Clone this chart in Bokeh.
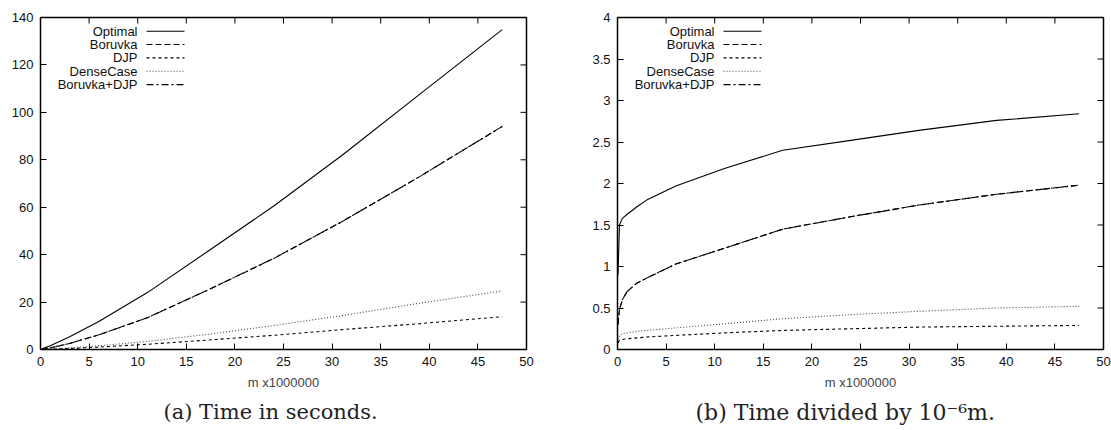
import math
from bokeh.plotting import figure
from bokeh.models import Range1d, Label, Arrow, Title, FixedTicker
from bokeh.layouts import row
from bokeh.embed import file_html
from bokeh.resources import INLINE

# ---- data ----
m_millions = [0.05, 0.2, 0.5, 1, 2, 3, 6, 11, 17, 24, 31, 39, 47.5]

# (a) time in seconds
sec_optimal = [0.045, 0.3, 0.79, 1.63, 3.44, 5.4, 11.8, 24.0, 40.8, 60.5, 81.8, 107.6, 134.9]
sec_boruvka = [0.015, 0.096, 0.3, 0.7, 1.6, 2.58, 6.18, 13.4, 24.65, 38.4, 53.9, 72.9, 94.05]
sec_djp = [0.004, 0.022, 0.06, 0.13, 0.28, 0.45, 1.02, 2.2, 3.91, 6.0, 8.37, 10.9, 13.8]
sec_dense = [0.006, 0.034, 0.095, 0.2, 0.44, 0.69, 1.56, 3.41, 6.29, 10.1, 14.3, 19.5, 24.7]
sec_boruvka_djp = [0.015, 0.096, 0.3, 0.7, 1.6, 2.58, 6.18, 13.4, 24.65, 38.4, 53.9, 72.9, 94.05]

# (b) time divided by 1e-6 m
norm_optimal = [0.9, 1.5, 1.58, 1.63, 1.72, 1.8, 1.97, 2.18, 2.4, 2.52, 2.64, 2.76, 2.84]
norm_boruvka = [0.3, 0.48, 0.6, 0.7, 0.8, 0.86, 1.03, 1.22, 1.45, 1.6, 1.74, 1.87, 1.98]
norm_djp = [0.08, 0.11, 0.12, 0.13, 0.14, 0.15, 0.17, 0.2, 0.23, 0.25, 0.27, 0.28, 0.29]
norm_dense = [0.12, 0.17, 0.19, 0.2, 0.22, 0.23, 0.26, 0.31, 0.37, 0.42, 0.46, 0.5, 0.52]
norm_boruvka_djp = [0.3, 0.48, 0.6, 0.7, 0.8, 0.86, 1.03, 1.22, 1.45, 1.6, 1.74, 1.87, 1.98]

series_names = ["Optimal", "Boruvka", "DJP", "DenseCase", "Boruvka+DJP"]
x_ticks = [0, 5, 10, 15, 20, 25, 30, 35, 40, 45, 50]
y_ticks_a = [0, 20, 40, 60, 80, 100, 120, 140]
y_ticks_b = [0, 0.5, 1, 1.5, 2, 2.5, 3, 3.5, 4]
x_label = "m x1000000"
caption_a = "(a) Time in seconds."
caption_b = "(b) Time divided by 10\u207b\u2076m."

# ---- styles ----
STYLES = [
    dict(line_color="#000000", line_dash="solid", line_width=1.1),
    dict(line_color="#000000", line_dash="6 3", line_width=1.1),
    dict(line_color="#000000", line_dash="3 3", line_width=1.1),
    dict(line_color="#444444", line_dash="1 2", line_width=1.1),
    dict(line_color="#000000", line_dash="7 3 2 3", line_width=1.1),
]
SANS = "Liberation Sans"
SERIF = "DejaVu Serif"
H = 430
BT = 17
BB = 81


def make_panel(ys, yticks, ymax, caption, width, bl, br, cap_offset, cap_size):
    p = figure(width=width, height=H, output_backend="svg", toolbar_location=None,
               x_range=Range1d(0, 50), y_range=Range1d(0, ymax),
               min_border_left=bl, min_border_right=br, min_border_top=BT, min_border_bottom=BB)
    p.xgrid.visible = False
    p.ygrid.visible = False
    p.outline_line_color = "#000000"
    p.outline_line_width = 1.5
    p.background_fill_color = "white"
    p.border_fill_color = "white"

    for ax, ticks in ((p.xaxis[0], x_ticks), (p.yaxis[0], yticks)):
        ax.ticker = FixedTicker(ticks=ticks)
        ax.axis_line_color = None
        ax.major_tick_in = 6
        ax.major_tick_out = 0
        ax.major_tick_line_color = "#000000"
        ax.major_tick_line_width = 1
        ax.minor_tick_line_color = None
        ax.major_label_text_font = SANS
        ax.major_label_text_font_size = "13px"
        ax.major_label_text_color = "#111111"
    p.xaxis[0].major_label_standoff = 7
    p.yaxis[0].major_label_standoff = 7
    p.xaxis[0].axis_label = x_label
    p.xaxis[0].axis_label_text_font = SANS
    p.xaxis[0].axis_label_text_font_style = "normal"
    p.xaxis[0].axis_label_text_font_size = "13px"
    p.xaxis[0].axis_label_standoff = 6

    # mirrored tick marks on the top and right edges
    p.ray(x=x_ticks, y=[ymax] * len(x_ticks), length=6, length_units="screen",
          angle=-math.pi / 2, line_color="#000000", line_width=1)
    p.ray(x=[50] * len(yticks), y=yticks, length=6, length_units="screen",
          angle=math.pi, line_color="#000000", line_width=1)

    for yv, name, st in zip(ys, series_names, STYLES):
        p.line(m_millions, yv, **st)

    # gnuplot-style key: right-aligned text followed by a line sample
    fw = width - bl - br
    fh = H - BT - BB
    xs = 50.0 / fw
    ysc = ymax / fh
    for i, (name, st) in enumerate(zip(series_names, STYLES)):
        dy = 13.7 + i * 13.35
        yv = ymax - dy * ysc
        p.add_layout(Label(x=97 * xs, y=yv, text=name, text_align="right", text_baseline="middle",
                           text_font=SANS, text_font_size="13px", text_color="#111111"))
        p.add_layout(Arrow(end=None, x_start=106 * xs, y_start=yv, x_end=144 * xs, y_end=yv,
                           line_color=st["line_color"], line_dash=st["line_dash"], line_width=1.1))

    t = Title(text=caption, align="left", offset=cap_offset, text_font=SERIF,
              text_font_style="normal", text_font_size=cap_size, text_color="#222222")
    p.add_layout(t, "below")
    return p


pa = make_panel([sec_optimal, sec_boruvka, sec_djp, sec_dense, sec_boruvka_djp],
                y_ticks_a, 140, caption_a, 568, 40, 42, 123, "21px")
pb = make_panel([norm_optimal, norm_boruvka, norm_djp, norm_dense, norm_boruvka_djp],
                y_ticks_b, 4, caption_b, 543, 49, 8, 78, "22px")

layout = row(pa, pb)
open("out.html", "w").write(file_html(layout, INLINE))
